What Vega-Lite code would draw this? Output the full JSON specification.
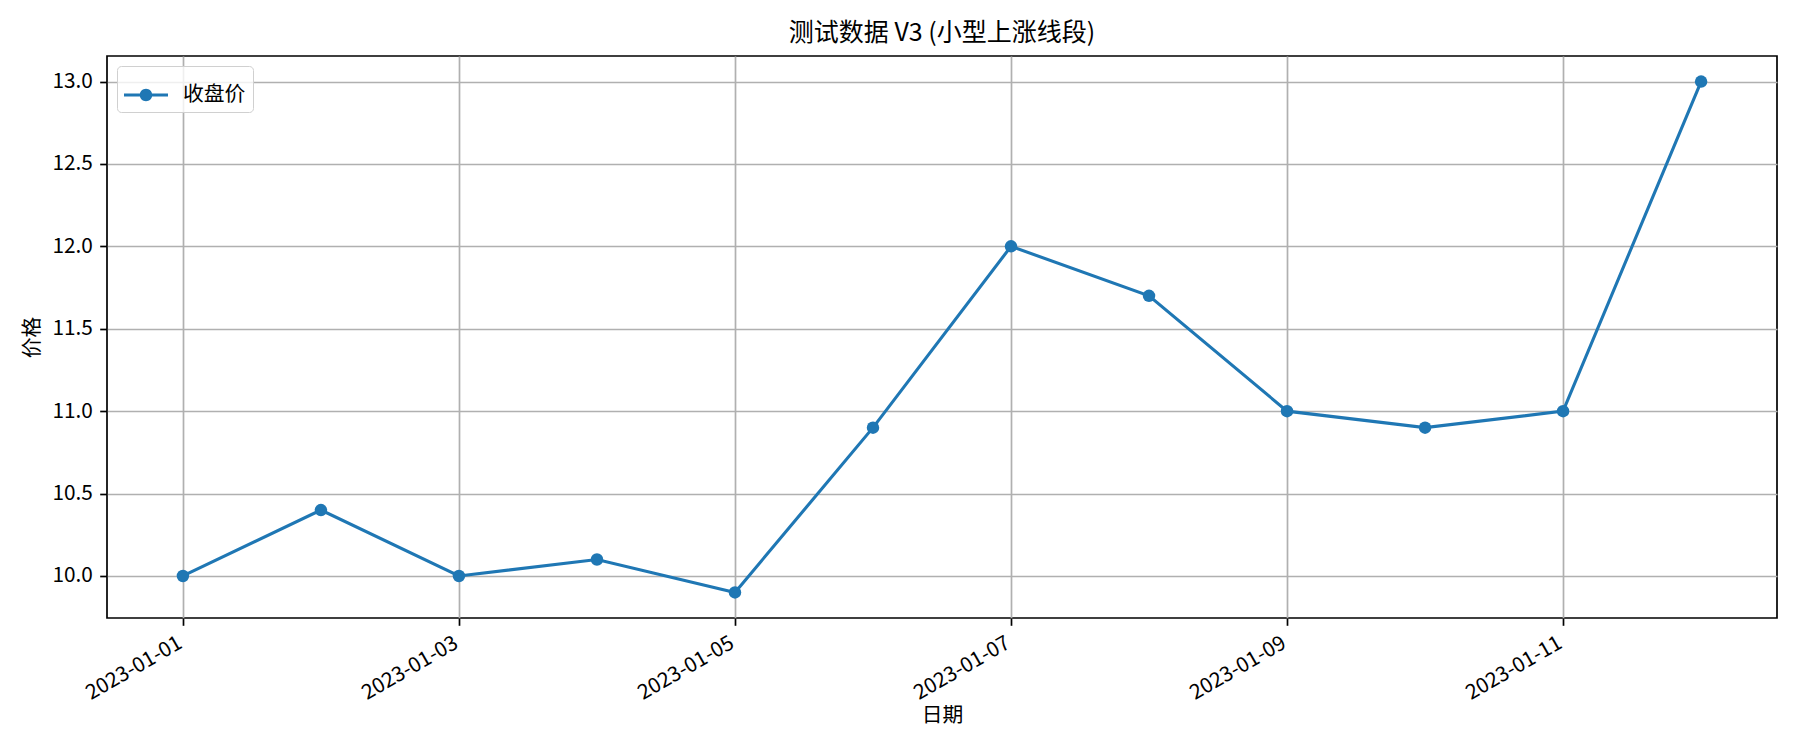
{
  "$schema": "https://vega.github.io/schema/vega-lite/v6.json",
  "width": 1670,
  "height": 562,
  "autosize": {"type": "none"},
  "padding": {"left": 107, "top": 56, "right": 23, "bottom": 132},
  "background": "white",
  "title": {
    "text": "测试数据 V3 (小型上涨线段)",
    "font": "Noto Sans CJK SC",
    "fontSize": 25,
    "fontWeight": "normal",
    "color": "black",
    "anchor": "middle",
    "baseline": "bottom",
    "offset": 8,
    "dy": 23
  },
  "config": {
    "view": {"stroke": "black", "strokeWidth": 1.7},
    "font": "Noto Sans CJK SC",
    "axis": {
      "domain": false,
      "grid": true,
      "gridColor": "#b0b0b0",
      "gridWidth": 1.7,
      "tickColor": "black",
      "tickWidth": 1.7,
      "tickSize": 7.3,
      "labelPadding": 7.3,
      "labelFont": "Noto Sans CJK SC",
      "labelFontSize": 20.8,
      "labelColor": "black",
      "titleFont": "Noto Sans CJK SC",
      "titleFontSize": 20.8,
      "titleFontWeight": "normal",
      "titleColor": "black"
    }
  },
  "data": {
    "values": [
      {"date": "2023-01-01T00:00:00Z", "close": 10.0, "series": "收盘价"},
      {"date": "2023-01-02T00:00:00Z", "close": 10.4, "series": "收盘价"},
      {"date": "2023-01-03T00:00:00Z", "close": 10.0, "series": "收盘价"},
      {"date": "2023-01-04T00:00:00Z", "close": 10.1, "series": "收盘价"},
      {"date": "2023-01-05T00:00:00Z", "close": 9.9, "series": "收盘价"},
      {"date": "2023-01-06T00:00:00Z", "close": 10.9, "series": "收盘价"},
      {"date": "2023-01-07T00:00:00Z", "close": 12.0, "series": "收盘价"},
      {"date": "2023-01-08T00:00:00Z", "close": 11.7, "series": "收盘价"},
      {"date": "2023-01-09T00:00:00Z", "close": 11.0, "series": "收盘价"},
      {"date": "2023-01-10T00:00:00Z", "close": 10.9, "series": "收盘价"},
      {"date": "2023-01-11T00:00:00Z", "close": 11.0, "series": "收盘价"},
      {"date": "2023-01-12T00:00:00Z", "close": 13.0, "series": "收盘价"}
    ]
  },
  "encoding": {
    "x": {
      "field": "date",
      "type": "temporal",
      "title": "日期",
      "scale": {
        "type": "utc",
        "domain": [
          {"year": 2022, "month": 12, "date": 31, "hours": 10, "minutes": 48, "utc": true},
          {"year": 2023, "month": 1, "date": 12, "hours": 13, "minutes": 12, "utc": true}
        ]
      },
      "axis": {
        "values": [
          {"year": 2023, "month": 1, "date": 1, "utc": true},
          {"year": 2023, "month": 1, "date": 3, "utc": true},
          {"year": 2023, "month": 1, "date": 5, "utc": true},
          {"year": 2023, "month": 1, "date": 7, "utc": true},
          {"year": 2023, "month": 1, "date": 9, "utc": true},
          {"year": 2023, "month": 1, "date": 11, "utc": true}
        ],
        "format": "%Y-%m-%d",
        "labelAngle": -30,
        "labelAlign": "right",
        "labelBaseline": "top",
        "labelOffset": -8,
        "labelFlush": false,
        "labelOverlap": false,
        "titlePadding": 2
      }
    },
    "y": {
      "field": "close",
      "type": "quantitative",
      "title": "价格",
      "scale": {"domain": [9.745, 13.155], "nice": false, "zero": false},
      "axis": {
        "values": [10.0, 10.5, 11.0, 11.5, 12.0, 12.5, 13.0],
        "format": ".1f",
        "labelFlush": false,
        "titlePadding": 9
      }
    }
  },
  "layer": [
    {
      "mark": {"type": "line", "color": "#1f77b4", "strokeWidth": 3.1},
      "encoding": {}
    },
    {
      "mark": {"type": "point", "filled": true, "opacity": 1, "size": 156, "shape": "circle"},
      "encoding": {
        "color": {
          "field": "series",
          "type": "nominal",
          "scale": {"range": ["#1f77b4"]},
          "legend": {
            "title": null,
            "orient": "top-left",
            "offset": 10,
            "symbolType": "M-1,-0.07L1,-0.07L1,0.07L-1,0.07Z M-0.284,0A0.284,0.284 0 1,1 0.284,0A0.284,0.284 0 1,1 -0.284,0Z",
            "symbolSize": 1936,
            "symbolStrokeWidth": 0,
            "symbolOpacity": 1,
            "labelFont": "Noto Sans CJK SC",
            "labelFontSize": 20.8,
            "labelColor": "black",
            "labelOffset": 15,
            "padding": 7,
            "strokeColor": "#d0d0d0",
            "fillColor": "rgba(255,255,255,0.8)",
            "cornerRadius": 4
          }
        }
      }
    }
  ]
}
